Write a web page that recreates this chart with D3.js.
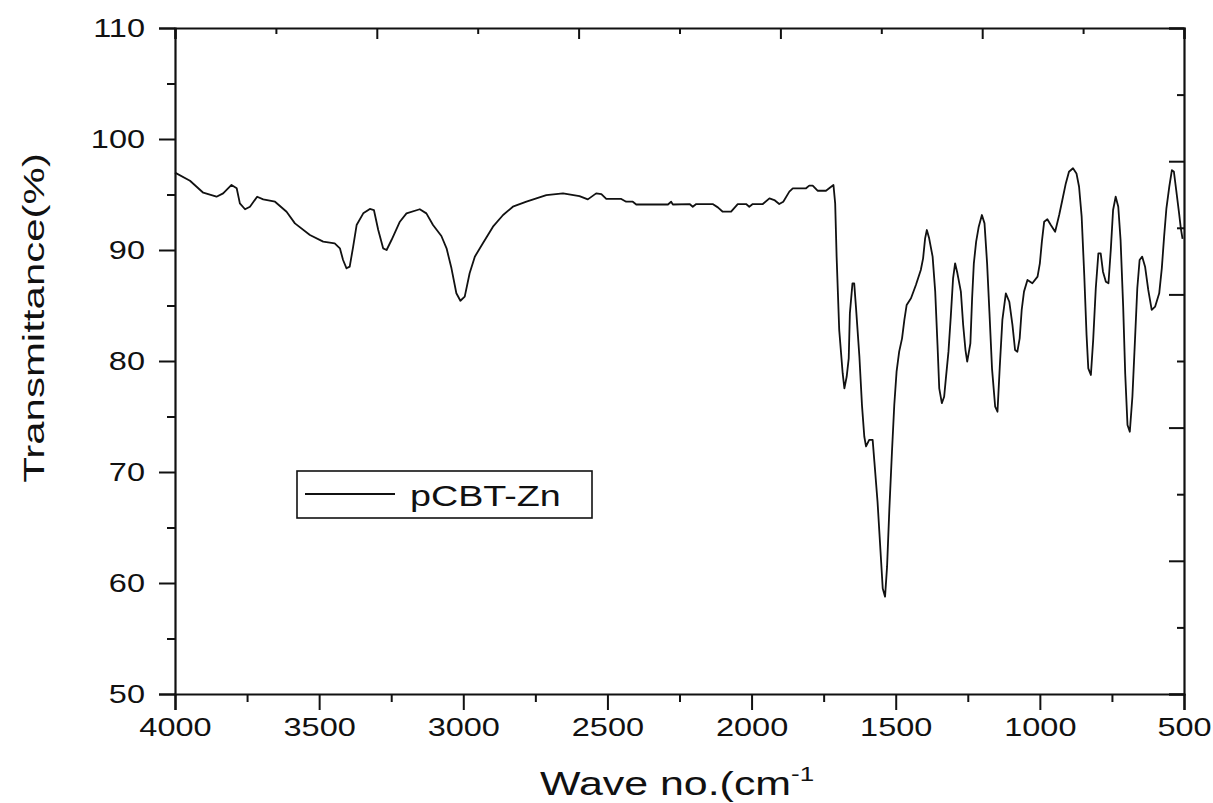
<!DOCTYPE html>
<html>
<head>
<meta charset="utf-8">
<script src="https://cdn.jsdelivr.net/npm/d3@7"></script>
<style>
  body { margin: 0; background: #fff; }
  svg { display: block; }
  text { font-family: "Liberation Sans", Arial, sans-serif; fill: #111; }
</style>
</head>
<body>
<svg id="chart" width="1213" height="803"></svg>
<script>
// FTIR spectrum of pCBT-Zn: wavenumber (cm^-1) vs transmittance (%)
const wavenumber = [
  4000, 3948, 3902, 3856, 3833, 3804, 3786, 3775, 3757, 3740, 3715, 3694, 3653, 3613, 3584,
  3532, 3486, 3446, 3428, 3417, 3405, 3394, 3382, 3370, 3347, 3324, 3310, 3295, 3278, 3266,
  3249, 3220, 3197, 3151, 3128, 3105, 3076, 3058, 3041, 3024, 3010, 2995, 2978, 2960, 2932,
  2897, 2862, 2828, 2781, 2712, 2654, 2597, 2568, 2539, 2521, 2504, 2452, 2435, 2412, 2400,
  2290, 2279, 2273, 2215, 2204, 2192, 2135, 2117, 2100, 2071, 2048, 2019, 2008, 1996, 1961,
  1938, 1921, 1904, 1890, 1869, 1857, 1811, 1800, 1788, 1771, 1742, 1724, 1716, 1710, 1705,
  1696, 1684, 1678, 1670, 1663, 1659, 1650, 1644, 1638, 1626, 1617, 1609, 1603, 1592, 1580,
  1574, 1563, 1553, 1545, 1537, 1530, 1522, 1513, 1505, 1497, 1488, 1478, 1470, 1462, 1447,
  1430, 1413, 1405, 1398, 1392, 1384, 1372, 1363, 1355, 1349, 1340, 1332, 1326, 1317, 1309,
  1301, 1294, 1286, 1274, 1266, 1258, 1252, 1241, 1235, 1229, 1221, 1212, 1201, 1192, 1183,
  1175, 1166, 1155, 1147, 1139, 1130, 1118, 1106, 1095, 1086, 1078, 1070, 1063, 1055, 1043,
  1026, 1008, 1000, 993, 985, 974, 962, 947, 933, 922, 910, 899, 885, 873, 864,
  855, 846, 838, 832, 823, 815, 806, 797, 789, 781, 771, 762, 754, 746, 737,
  728, 720, 711, 704, 696, 688, 679, 670, 662, 654, 645, 635, 624, 612, 600,
  586, 577, 569, 561, 551, 542, 535, 527, 517, 511, 505
];
const transmittance = [
  96.97, 96.24, 95.16, 94.80, 95.10, 95.86, 95.56, 94.20, 93.67, 93.90, 94.80, 94.56, 94.35, 93.45, 92.40,
  91.35, 90.75, 90.60, 90.15, 89.10, 88.35, 88.50, 90.30, 92.25, 93.30, 93.70, 93.60, 91.80, 90.15, 90.00,
  90.90, 92.55, 93.30, 93.67, 93.30, 92.25, 91.26, 90.15, 88.35, 86.10, 85.43, 85.80, 87.90, 89.40, 90.60,
  92.10, 93.15, 93.90, 94.35, 94.95, 95.10, 94.86, 94.56, 95.10, 95.04, 94.60, 94.60, 94.35, 94.35, 94.10,
  94.10, 94.35, 94.10, 94.14, 93.90, 94.14, 94.14, 93.84, 93.45, 93.45, 94.14, 94.14, 93.90, 94.14, 94.14,
  94.65, 94.50, 94.14, 94.35, 95.26, 95.56, 95.56, 95.80, 95.80, 95.34, 95.34, 95.70, 95.86, 94.20, 89.40,
  82.80, 78.90, 77.54, 78.60, 80.24, 84.30, 87.00, 87.00, 84.90, 80.40, 76.00, 73.20, 72.30, 72.90, 72.90,
  70.93, 67.30, 62.97, 59.50, 58.77, 61.47, 66.70, 71.83, 76.04, 79.04, 80.84, 82.04, 83.70, 85.05, 85.65,
  86.85, 88.20, 89.25, 91.05, 91.80, 91.05, 89.40, 86.25, 81.44, 77.54, 76.20, 76.78, 78.44, 80.84, 84.00,
  87.45, 88.80, 87.90, 86.25, 83.24, 80.99, 79.94, 81.59, 85.65, 88.80, 90.75, 92.10, 93.15, 92.40, 88.80,
  84.45, 79.34, 75.88, 75.43, 79.50, 83.70, 86.10, 85.34, 83.24, 80.99, 80.84, 82.04, 84.60, 86.25, 87.30,
  87.00, 87.60, 88.80, 90.75, 92.55, 92.77, 92.25, 91.65, 93.15, 94.50, 96.00, 97.05, 97.36, 96.90, 95.70,
  93.00, 87.75, 82.34, 79.34, 78.74, 81.90, 86.55, 89.70, 89.70, 88.05, 87.15, 87.00, 90.00, 93.60, 94.80,
  93.90, 90.90, 84.90, 78.90, 74.24, 73.63, 76.78, 81.90, 86.55, 89.10, 89.40, 88.50, 86.40, 84.60, 84.90,
  86.10, 88.35, 91.20, 93.76, 95.70, 97.20, 97.05, 95.40, 93.30, 91.95, 91.00
];

const xTickValues = [4000, 3500, 3000, 2500, 2000, 1500, 1000, 500];
const xMinorValues = [3750, 3250, 2750, 2250, 1750, 1250, 750];
const yTickValues = [50, 60, 70, 80, 90, 100, 110];
const yMinorValues = [55, 65, 75, 85, 95, 105];
const seriesName = "pCBT-Zn";
const xTitle = "Wave no.(cm";
const xTitleSup = "-1";
const yTitle = "Transmittance(%)";

const svg = d3.select("#chart");
const plotLeft = 175, plotRight = 1184, plotTop = 28, plotBottom = 694;
const stretch = 1.3; // text is drawn wide along its reading direction

const x = d3.scaleLinear().domain([4000, 500]).range([plotLeft, plotRight]);
const y = d3.scaleLinear().domain([50, 110]).range([plotBottom, plotTop]);
// mirror axes (top / right) use their own 10-step division
const xMirror = d3.scaleLinear().domain([0, 10]).range([plotLeft, plotRight]);
const yMirror = d3.scaleLinear().domain([0, 10]).range([plotBottom, plotTop]);

function styleAxis(g) {
  g.select(".domain").attr("stroke", "#111").attr("stroke-width", 2.2);
  g.selectAll(".tick line").attr("stroke", "#111").attr("stroke-width", 2);
}

// spectrum line
const line = d3.line()
  .x((d, i) => x(wavenumber[i]))
  .y((d, i) => y(transmittance[i]));

svg.append("path")
  .datum(transmittance)
  .attr("fill", "none")
  .attr("stroke", "#111")
  .attr("stroke-width", 1.8)
  .attr("stroke-linejoin", "round")
  .attr("d", line);

// bottom axis: major with labels, minor without
const gx = svg.append("g").attr("transform", `translate(0,${plotBottom})`)
  .call(d3.axisBottom(x).tickValues(xTickValues).tickSize(16).tickPadding(8).tickFormat(d3.format("d")));
svg.append("g").attr("transform", `translate(0,${plotBottom})`)
  .call(d3.axisBottom(x).tickValues(xMinorValues).tickSize(8).tickFormat(""))
  .call(g => g.select(".domain").remove())
  .call(styleAxis);
styleAxis(gx);
gx.selectAll(".tick text")
  .attr("font-size", 25)
  .attr("font-family", "Liberation Sans, Arial, sans-serif")
  .attr("fill", "#111")
  .attr("transform", `scale(${stretch},1)`);

// left axis
const gy = svg.append("g").attr("transform", `translate(${plotLeft},0)`)
  .call(d3.axisLeft(y).tickValues(yTickValues).tickSize(16).tickFormat(d3.format("d")));
svg.append("g").attr("transform", `translate(${plotLeft},0)`)
  .call(d3.axisLeft(y).tickValues(yMinorValues).tickSize(8).tickFormat(""))
  .call(g => g.select(".domain").remove())
  .call(styleAxis);
styleAxis(gy);
gy.selectAll(".tick text")
  .attr("font-size", 25)
  .attr("font-family", "Liberation Sans, Arial, sans-serif")
  .attr("fill", "#111")
  .attr("x", -30 / stretch)
  .attr("transform", `scale(${stretch},1)`);

// top mirror axis, ticks inward
const gt = svg.append("g").attr("transform", `translate(0,${plotTop})`)
  .call(d3.axisBottom(xMirror).tickValues([0, 2, 4, 6, 8, 10]).tickSize(11).tickFormat(""));
svg.append("g").attr("transform", `translate(0,${plotTop})`)
  .call(d3.axisBottom(xMirror).tickValues([1, 3, 5, 7, 9]).tickSize(6).tickFormat(""))
  .call(g => g.select(".domain").remove())
  .call(styleAxis);
styleAxis(gt);

// right mirror axis, ticks inward
const gr = svg.append("g").attr("transform", `translate(${plotRight},0)`)
  .call(d3.axisLeft(yMirror).tickValues([0, 2, 4, 6, 8, 10]).tickSize(15).tickFormat(""));
svg.append("g").attr("transform", `translate(${plotRight},0)`)
  .call(d3.axisLeft(yMirror).tickValues([1, 3, 5, 7, 9]).tickSize(7).tickFormat(""))
  .call(g => g.select(".domain").remove())
  .call(styleAxis);
styleAxis(gr);

// axis titles
const xt = svg.append("text")
  .attr("transform", `translate(540,795) scale(${stretch},1)`)
  .attr("font-size", 33);
xt.append("tspan").text(xTitle);
xt.append("tspan").attr("font-size", 20).attr("dy", -14).text(xTitleSup);

svg.append("text")
  .attr("transform", `translate(44,318) rotate(-90) scale(1.4,1)`)
  .attr("text-anchor", "middle")
  .attr("font-size", 30)
  .text(yTitle);

// legend
const lg = svg.append("g");
lg.append("rect")
  .attr("x", 297).attr("y", 471).attr("width", 295).attr("height", 47)
  .attr("fill", "#fff").attr("stroke", "#111").attr("stroke-width", 1.6);
lg.append("line")
  .attr("x1", 305).attr("x2", 395).attr("y1", 494).attr("y2", 494)
  .attr("stroke", "#111").attr("stroke-width", 1.8);
lg.append("text")
  .attr("transform", `translate(410,506) scale(${stretch},1)`)
  .attr("font-size", 29)
  .text(seriesName);
</script>
</body>
</html>
